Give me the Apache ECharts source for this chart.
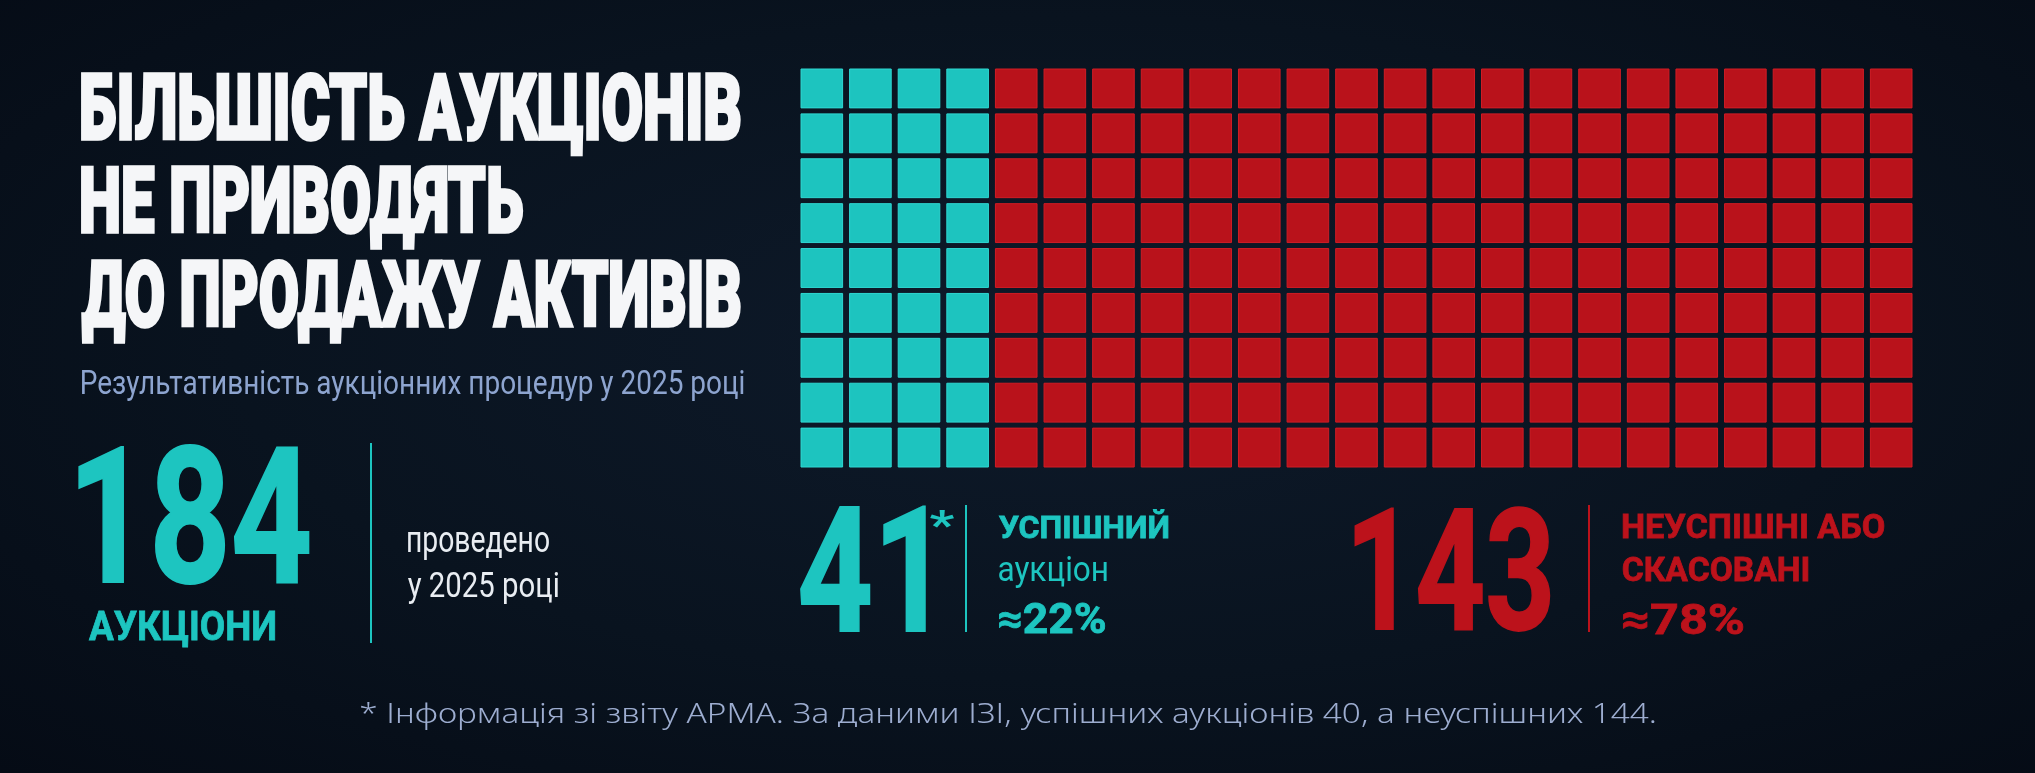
<!DOCTYPE html>
<html lang="uk">
<head>
<meta charset="utf-8">
<title>Результативність аукціонів 2025</title>
<script src="https://cdn.jsdelivr.net/npm/echarts@6/dist/echarts.min.js"></script>
<style>
  html, body { margin: 0; padding: 0; }
  body { background: #08111d; }
  #chart {
    width: 2035px; height: 773px;
    background: radial-gradient(ellipse at 52% 45%, #0e1a2a 0%, #09131f 55%, #050b15 100%);
  }
</style>
</head>
<body>
<div id="chart"></div>
<script>
// --- дані ---
const titleLines = ['БІЛЬШІСТЬ АУКЦІОНІВ', 'НЕ ПРИВОДЯТЬ', 'ДО ПРОДАЖУ АКТИВІВ'];
const subtitle = 'Результативність аукціонних процедур у 2025 році';
const totalAuctions = 184;
const successAuctions = 41;
const failedAuctions = 143;
const successShare = '≈22%';
const failedShare = '≈78%';
const footnote = '* Інформація зі звіту АРМА. За даними ІЗІ, успішних аукціонів 40, а неуспішних 144.';

// сітка «вафлі» так, як вона намальована: 23 стовпці × 9 рядків
const waffleCols = 23;
const waffleRows = 9;
const waffleCells = [36, 171]; // бірюзові (успішні), червоні (неуспішні)
const waffleColors = ['#1dc4bf', '#b9121b'];
const waffleEdges = ['#2fd8d2', '#d11d25'];

const TEAL = '#1dc5c0';
const RED = '#bc121b';
const WHITE = '#f5f6f8';

// клітинки: заповнюємо по стовпцях
const cellData = [];
let idx = 0;
waffleCells.forEach((count, kind) => {
    for (let k = 0; k < count; k++, idx++) {
        cellData.push([Math.floor(idx / waffleRows), idx % waffleRows, kind]);
    }
});

// вимірювання тексту, щоб підігнати висоту та ширину
const measureCtx = document.createElement('canvas').getContext('2d');
function fitText(o) {
    const fam = o.family || 'Roboto';
    measureCtx.font = `${o.weight} 100px ${fam}`;
    measureCtx.textBaseline = 'middle';
    const r = measureCtx.measureText(o.ref);
    const inkH = r.actualBoundingBoxAscent + r.actualBoundingBoxDescent;
    const size = 100 * o.h / inkH;
    const k = size / 100;
    const m = measureCtx.measureText(o.text);
    const inkW = (m.actualBoundingBoxLeft + m.actualBoundingBoxRight) * k;
    const sx = o.w ? o.w / inkW : 1;
    const style = {
        text: o.text,
        font: `${o.weight} ${size}px ${fam}`,
        fill: o.color,
        textAlign: 'left',
        textVerticalAlign: 'middle'
    };
    if (o.bold) {
        // трохи потовщуємо штрихи, щоб наблизитись до жирного вузького шрифту
        style.stroke = o.color;
        style.lineWidth = o.bold;
        style.lineJoin = 'round';
    }
    return {
        type: 'text',
        x: o.left + m.actualBoundingBoxLeft * k * sx,
        y: o.top + r.actualBoundingBoxAscent * k,
        scaleX: sx,
        silent: true,
        style: style
    };
}

function vline(x, y1, y2, color) {
    return { type: 'line', silent: true, shape: { x1: x, y1: y1, x2: x, y2: y2 }, style: { stroke: color, lineWidth: 2 } };
}

const texts = [
    fitText({ text: titleLines[0], weight: 900, ref: 'Н', top: 74, h: 65, left: 82, w: 658, color: WHITE, bold: 3.5 }),
    fitText({ text: titleLines[1], weight: 900, ref: 'Н', top: 167, h: 65, left: 82, w: 440, color: WHITE, bold: 3.5 }),
    fitText({ text: titleLines[2], weight: 900, ref: 'Н', top: 261, h: 65, left: 82, w: 658, color: WHITE, bold: 3.5 }),
    fitText({ text: subtitle, weight: 400, ref: 'Р', top: 371, h: 23, left: 82, w: 662, color: '#8da4cf' }),

    fitText({ text: String(totalAuctions), weight: 700, ref: '184', top: 444, h: 140, left: 79, w: 230, color: TEAL, bold: 2 }),
    fitText({ text: 'АУКЦІОНИ', weight: 700, ref: 'Н', top: 611, h: 29, left: 89, w: 186, color: TEAL, bold: 0.8 }),
    vline(371, 443, 643, TEAL),
    fitText({ text: 'проведено', weight: 400, ref: 'п', top: 532, h: 20, left: 408, w: 141, color: '#e9edf2' }),
    fitText({ text: 'у 2025 році', weight: 400, ref: '2025', top: 571, h: 26, left: 408, w: 150, color: '#e9edf2' }),

    fitText({ text: String(successAuctions), weight: 700, ref: '41', top: 506, h: 125, left: 800, w: 126, color: TEAL, bold: 2 }),
    fitText({ text: '*', weight: 700, ref: '*', top: 510, h: 18, left: 930, w: 24, color: TEAL }),
    vline(966, 505, 632, TEAL),
    fitText({ text: 'УСПІШНИЙ', weight: 700, ref: 'УСПШН', top: 515, h: 23, left: 999, w: 169, color: TEAL, bold: 0.8 }),
    fitText({ text: 'аукціон', weight: 400, ref: 'н', top: 562, h: 19, left: 999, w: 108, color: TEAL }),
    fitText({ text: successShare, weight: 700, ref: '22%', top: 602, h: 31, left: 999, w: 106, color: TEAL, bold: 0.8 }),

    fitText({ text: String(failedAuctions), weight: 700, ref: '143', top: 506, h: 125, left: 1355, w: 195, color: RED, bold: 2 }),
    vline(1589, 505, 632, RED),
    fitText({ text: 'НЕУСПІШНІ АБО', weight: 700, ref: 'Н', top: 514, h: 24, left: 1623, w: 261, color: RED, bold: 0.8 }),
    fitText({ text: 'СКАСОВАНІ', weight: 700, ref: 'Н', top: 557, h: 24, left: 1623, w: 185, color: RED, bold: 0.8 }),
    fitText({ text: failedShare, weight: 700, ref: '78%', top: 602, h: 32, left: 1623, w: 120, color: RED, bold: 0.8 }),

    fitText({ text: footnote, weight: 300, family: '"Noto Sans"', ref: 'І', top: 703, h: 20, left: 361, w: 1294, color: '#9dadd0' })
];

const chart = echarts.init(document.getElementById('chart'), null, { renderer: 'canvas' });

const gapX = 7, gapY = 6;

chart.setOption({
    backgroundColor: 'transparent',
    animation: false,
    grid: { left: 797.5, top: 66, width: 1118, height: 404 },
    xAxis: { type: 'value', min: 0, max: waffleCols, show: false },
    yAxis: { type: 'value', min: 0, max: waffleRows, inverse: true, show: false },
    series: [{
        type: 'custom',
        data: cellData,
        renderItem: function (params, api) {
            const p = api.coord([api.value(0), api.value(1)]);
            const s = api.size([1, 1]);
            const kind = api.value(2);
            return {
                type: 'rect',
                shape: { x: p[0] + gapX / 2, y: p[1] + gapY / 2, width: s[0] - gapX, height: s[1] - gapY },
                style: { fill: waffleColors[kind], stroke: waffleEdges[kind], lineWidth: 1 }
            };
        }
    }],
    graphic: texts
});
</script>
</body>
</html>
